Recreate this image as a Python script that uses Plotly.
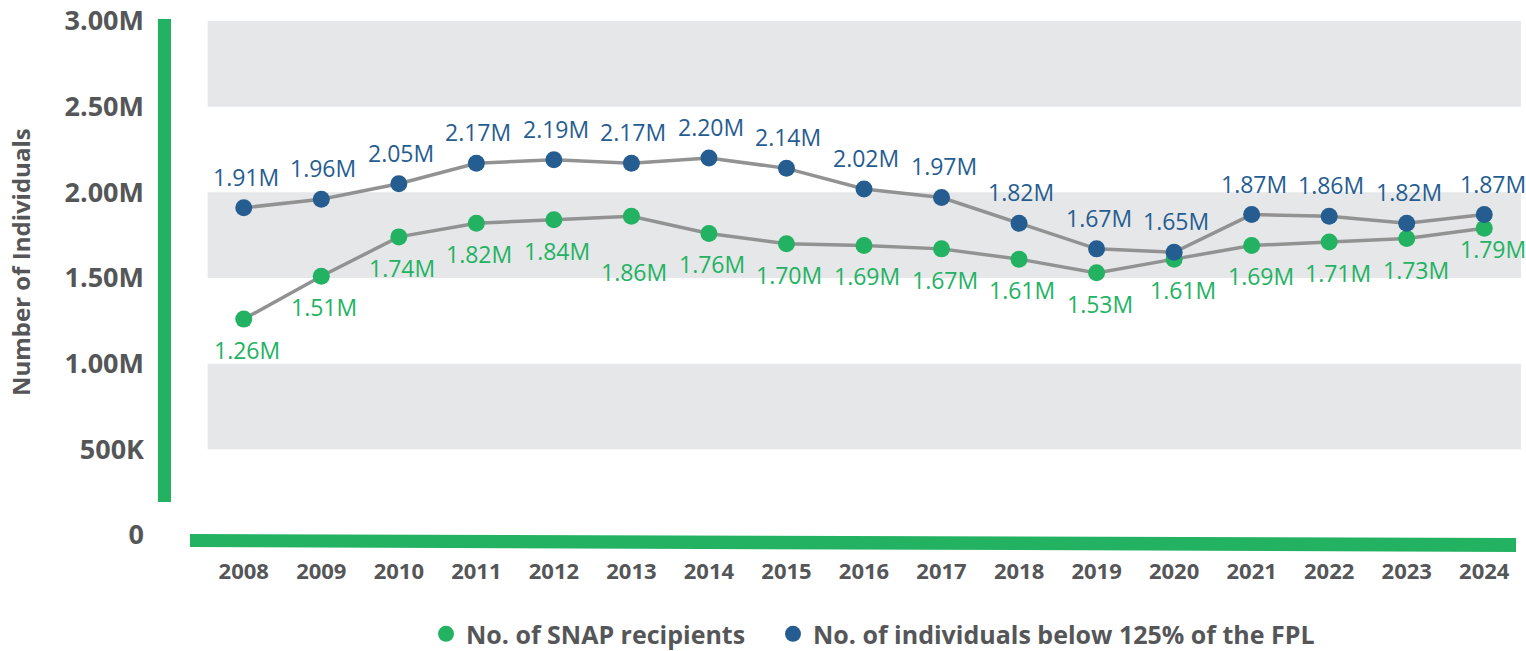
import plotly.graph_objects as go

# Annual counts, in millions of individuals
years = list(range(2008, 2025))
snap_recipients = [1.26, 1.51, 1.74, 1.82, 1.84, 1.86, 1.76, 1.70, 1.69, 1.67,
                   1.61, 1.53, 1.61, 1.69, 1.71, 1.73, 1.79]
below_125_fpl = [1.91, 1.96, 2.05, 2.17, 2.19, 2.17, 2.20, 2.14, 2.02, 1.97,
                 1.82, 1.67, 1.65, 1.87, 1.86, 1.82, 1.87]

y_tick_values = [0, 0.5e6, 1.0e6, 1.5e6, 2.0e6, 2.5e6, 3.0e6]
y_tick_labels = ["0", "500K", "1.00M", "1.50M", "2.00M", "2.50M", "3.00M"]

GREEN = "#22b262"
BLUE = "#265d91"
LINE_GREY = "#929292"
BAND_GREY = "#e6e7e8"
TEXT_GREY = "#555658"
FONT = "Open Sans"

snap_abs = [v * 1e6 for v in snap_recipients]
fpl_abs = [v * 1e6 for v in below_125_fpl]

fig = go.Figure()

# connecting lines (grey) under the coloured markers
for vals in (fpl_abs, snap_abs):
    fig.add_trace(go.Scatter(
        x=years, y=vals, mode="lines",
        line=dict(color=LINE_GREY, width=3.5),
        hoverinfo="skip", showlegend=False,
    ))

fig.add_trace(go.Scatter(
    x=years, y=snap_abs, mode="markers", name="No. of SNAP recipients",
    marker=dict(color=GREEN, size=17), legend="legend",
))
fig.add_trace(go.Scatter(
    x=years, y=fpl_abs, mode="markers", name="No. of individuals below 125% of the FPL",
    marker=dict(color=BLUE, size=17), legend="legend2",
))

# value labels
annotations = []
for yr, v in zip(years, below_125_fpl):
    annotations.append(dict(
        x=yr, y=v * 1e6, xref="x", yref="y", text=f"{v:.2f}M",
        showarrow=False, yshift=31, xshift=9 if yr == 2024 else 2,
        font=dict(family=FONT, size=23, color=BLUE),
    ))
for yr, v in zip(years, snap_recipients):
    shift = -56 if yr == 2013 else (-21 if yr == 2024 else -31)
    xs = 9 if yr >= 2020 else 3
    annotations.append(dict(
        x=yr, y=v * 1e6, xref="x", yref="y", text=f"{v:.2f}M",
        showarrow=False, yshift=shift, xshift=xs,
        font=dict(family=FONT, size=23, color=GREEN),
    ))

# y-axis title
annotations.append(dict(
    x=-0.1404, y=0.531, xref="paper", yref="paper", text="Number of Individuals",
    xanchor="center", yanchor="middle",
    textangle=-90, showarrow=False,
    font=dict(family=FONT, size=24, color=TEXT_GREY, weight="bold"),
))

shapes = []
# alternating background bands
for lo, hi in ((2.5e6, 3.0e6), (1.5e6, 2.0e6), (0.5e6, 1.0e6)):
    shapes.append(dict(
        type="rect", xref="paper", yref="y", x0=0.002, x1=0.9985, y0=lo, y1=hi,
        fillcolor=BAND_GREY, line=dict(width=0), layer="below",
    ))
# green accent bar beside the y axis
shapes.append(dict(
    type="rect", xref="paper", yref="paper", x0=-0.0357, x1=-0.0258, y0=0.064, y1=1.004,
    fillcolor=GREEN, line=dict(width=0),
))
# slightly tilted green base bar
shapes.append(dict(
    type="path", xref="paper", yref="paper",
    path="M -0.0114 0.0019 L 0.9947 -0.0058 L 0.9947 -0.0331 L -0.0114 -0.0233 Z",
    fillcolor=GREEN, line=dict(width=0),
))

legend_style = dict(
    orientation="h", xref="container", yref="container", xanchor="left",
    y=0.026, yanchor="middle",
    font=dict(family=FONT, size=25, color=TEXT_GREY, weight="bold"),
    itemsizing="trace", bgcolor="rgba(0,0,0,0)",
)

fig.update_layout(
    width=1526, height=651,
    margin=dict(l=205, r=3, t=21, b=116, autoexpand=False),
    paper_bgcolor="white", plot_bgcolor="white",
    font=dict(family=FONT, color=TEXT_GREY),
    showlegend=True,
    legend=dict(legend_style, x=426 / 1526),
    legend2=dict(legend_style, x=773 / 1526),
    xaxis=dict(
        range=[2007.5, 2024.5], tickvals=years, ticktext=[str(y) for y in years],
        showgrid=False, zeroline=False, showline=False, ticks="",
        ticklabelstandoff=21, automargin=False,
        tickfont=dict(family=FONT, size=22, color=TEXT_GREY, weight="bold"),
        fixedrange=True,
    ),
    yaxis=dict(
        range=[0, 3.0e6], tickvals=y_tick_values, ticktext=y_tick_labels,
        showgrid=False, zeroline=False, showline=False, ticks="",
        ticklabelstandoff=60, automargin=False,
        tickfont=dict(family=FONT, size=27, color=TEXT_GREY, weight="bold"),
        fixedrange=True,
    ),
    annotations=annotations,
    shapes=shapes,
)

fig.write_html("out.html")
